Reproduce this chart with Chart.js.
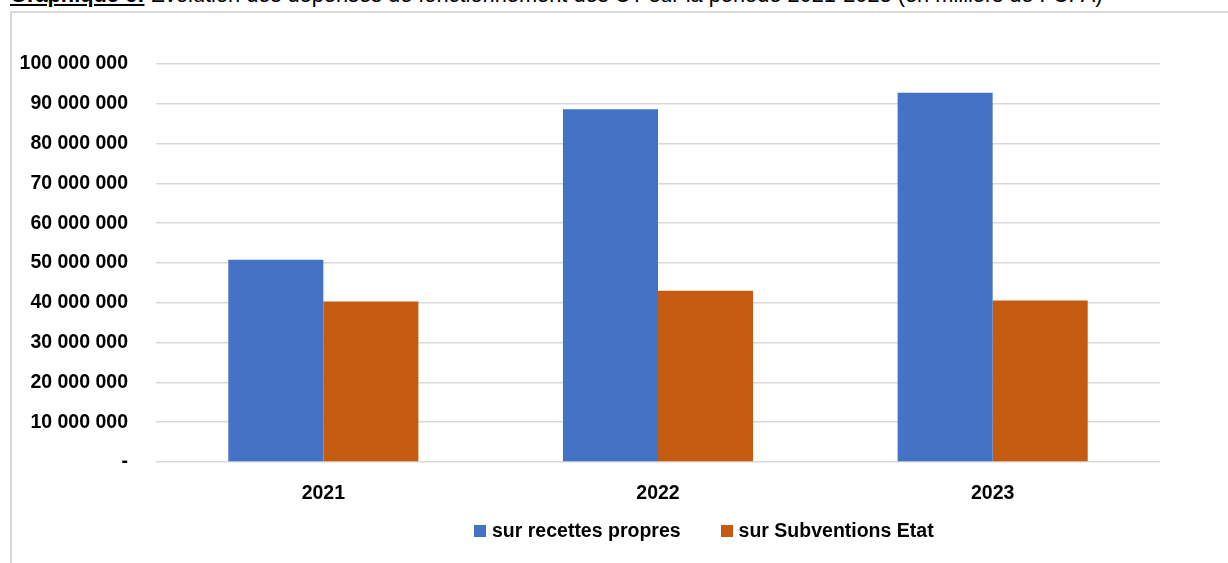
<!DOCTYPE html>
<html lang="fr">
<head>
<meta charset="utf-8">
<script src="https://cdn.jsdelivr.net/npm/chart.js@4.4.1/dist/chart.umd.min.js"></script>
<style>
  html, body { margin: 0; padding: 0; background: #fff; overflow: hidden; }
  body { width: 1228px; height: 563px; position: relative; }
  #title {
    position: absolute; left: 10px; top: -18px; white-space: nowrap;
    font-family: 'Liberation Sans', Arial, sans-serif; font-size: 21.8px; color: #000;
  }
  #title b { text-decoration: underline; }
  #frame {
    position: absolute; left: 10px; top: 11px; right: 0; bottom: 0;
    border-left: 2px solid #d9d9d9; border-top: 2px solid #d9d9d9;
  }
  #legend {
    position: absolute; left: 474px; top: 519px; display: flex; align-items: center;
    white-space: nowrap; font-weight: bold; color: #000;
  }
  #legend .item { display: flex; align-items: center; margin-right: 40px; }
  #legend .box { width: 12px; height: 12px; margin-right: 6px; }
</style>
</head>
<body>
<div id="title"><b>Graphique 6:</b> Evolution des dépenses de fonctionnement des CT sur la période 2021-2023 (en milliers de FCFA)</div>
<div id="frame">
  <canvas id="barChart" width="1216" height="550"></canvas>
</div>
<div id="legend"></div>

<script>
// Data (en milliers de FCFA)
const years = ['2021', '2022', '2023'];
const recettesPropres = [50800000, 88600000, 92800000];
const subventionsEtat = [40300000, 43000000, 40600000];
const seriesLabels = ['sur recettes propres', 'sur Subventions Etat'];
const seriesColors = ['#4472C4', '#C55A11'];

// Check if the narrow font exists, otherwise fall back to regular Liberation Sans
const probe = document.createElement('canvas').getContext('2d');
probe.font = "bold 23px monospace";
const wMono = probe.measureText('100 000 000').width;
probe.font = "bold 23px 'Liberation Sans Narrow', monospace";
const hasNarrow = probe.measureText('100 000 000').width !== wMono;
const fontFamily = hasNarrow ? "'Liberation Sans Narrow', 'Liberation Sans', Arial" : "'Liberation Sans', Arial";
const fontSize = hasNarrow ? 23 : 19.5;

// number formatting like "10 000 000", zero shown as "-"
function fmt(v) {
    if (v === 0) return '-';
    return String(Math.round(v)).replace(/\B(?=(\d{3})+(?!\d))/g, ' ');
}

// HTML legend built from the series arrays
const legendEl = document.getElementById('legend');
legendEl.style.fontFamily = fontFamily;
legendEl.style.fontSize = fontSize + 'px';
seriesLabels.forEach((lbl, i) => {
    const item = document.createElement('div');
    item.className = 'item';
    item.innerHTML = `<span class="box" style="background:${seriesColors[i]}"></span><span>${lbl}</span>`;
    legendEl.appendChild(item);
});

const ctx = document.getElementById('barChart').getContext('2d');
new Chart(ctx, {
    type: 'bar',
    data: {
        labels: years,
        datasets: [
            {
                label: seriesLabels[0],
                data: recettesPropres,
                backgroundColor: seriesColors[0],
                borderWidth: 0,
                categoryPercentage: 0.568,
                barPercentage: 1.0
            },
            {
                label: seriesLabels[1],
                data: subventionsEtat,
                backgroundColor: seriesColors[1],
                borderWidth: 0,
                categoryPercentage: 0.568,
                barPercentage: 1.0
            }
        ]
    },
    options: {
        responsive: false,
        animation: false,
        layout: { padding: { left: 0, right: 68, top: 51, bottom: 0 } },
        plugins: {
            legend: { display: false },
            tooltip: { enabled: false }
        },
        scales: {
            x: {
                grid: { display: false },
                border: { display: false },
                ticks: {
                    color: '#000',
                    padding: 12,
                    font: { family: fontFamily, size: fontSize, weight: 'bold' }
                },
                afterFit: (s) => { s.height = 101; }
            },
            y: {
                min: 0,
                max: 100000000,
                border: { display: false },
                grid: { color: '#d9d9d9', lineWidth: 1.5, drawTicks: false },
                ticks: {
                    stepSize: 10000000,
                    color: '#000',
                    padding: 28,
                    font: { family: fontFamily, size: fontSize, weight: 'bold' },
                    callback: (v) => fmt(v)
                },
                afterFit: (s) => { s.width = 144; }
            }
        }
    }
});
</script>
</body>
</html>
